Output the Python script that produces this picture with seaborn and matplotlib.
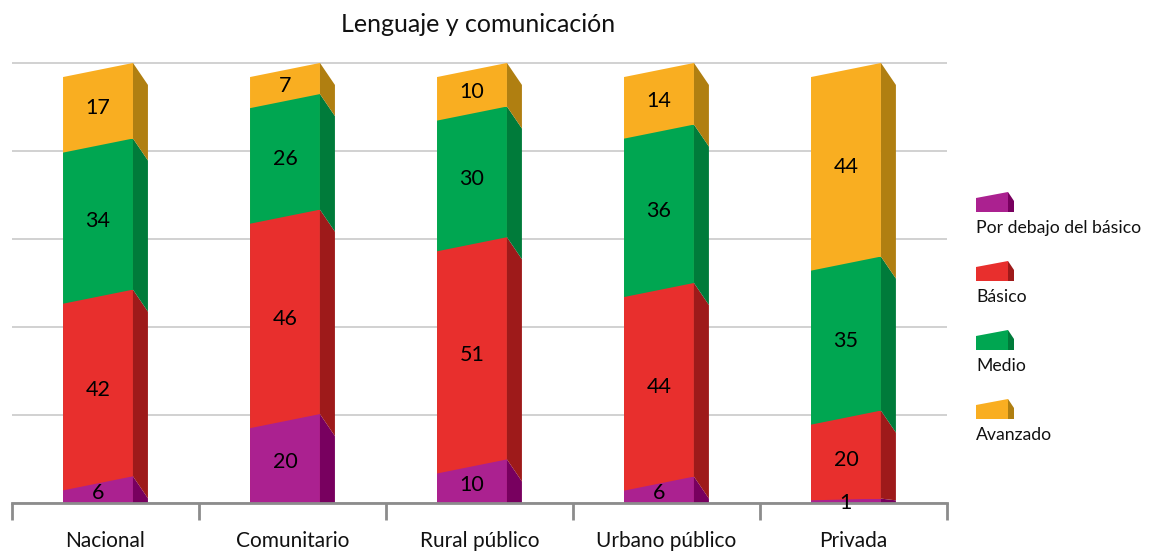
import numpy as np
import pandas as pd
import matplotlib
matplotlib.use("Agg")
import matplotlib.pyplot as plt
import seaborn as sns
from matplotlib.patches import Polygon

# Porcentaje de estudiantes por nivel de logro
categories = ["Nacional", "Comunitario", "Rural público", "Urbano público", "Privada"]
por_debajo = [6, 20, 10, 6, 1]
basico = [42, 46, 51, 44, 20]
medio = [34, 26, 30, 36, 35]
avanzado = [17, 7, 10, 14, 44]
levels = ["Por debajo del básico", "Básico", "Medio", "Avanzado"]
title = "Lenguaje y comunicación"

front_colors = ["#AB2190", "#E82F2D", "#00A651", "#F9AE21"]
side_colors = ["#78005F", "#9E1A1A", "#007B3A", "#B07F11"]

sns.set_theme(style="white")
plt.rcParams["font.family"] = ["Lato", "DejaVu Sans"]

W, H = 1153, 552
fig = plt.figure(figsize=(W / 100, H / 100), dpi=100)
ax = fig.add_axes([0.0104, 0.0888, 0.8109, 0.837])

# 100 % stacked: each column is scaled to its own total
series = np.array([por_debajo, basico, medio, avanzado], dtype=float)
shares = series / series.sum(axis=0) * 100
cum = np.cumsum(shares, axis=0)

FRONT_W = 0.374   # front face width (category units)
SHIFT = -0.04     # front face centre offset from category centre
DX = 0.08         # side face depth (category units)
SLANT = 3.2       # front edge rise from left to right (value units)
DROP = 5.0        # side edge fall from front to back (value units)


def eff(v, amount):
    return min(amount, max(v - 0.6, 0.0))


# front faces: cumulative bars, tallest first, each clipped to a slanted top
for k in range(3, -1, -1):
    before = len(ax.patches)
    df = pd.DataFrame({"cat": categories, "val": cum[k]})
    sns.barplot(data=df, x="cat", y="val", color=front_colors[k], saturation=1,
                width=FRONT_W, linewidth=0, ax=ax, zorder=3)
    for i, bar in enumerate(ax.patches[before:]):
        bar.set_x(bar.get_x() + SHIFT)
        xl, xr = bar.get_x(), bar.get_x() + bar.get_width()
        hi = cum[k][i]
        clip = Polygon([(xl, -10), (xr, -10), (xr, hi), (xl, hi - eff(hi, SLANT))],
                       closed=True, transform=ax.transData)
        bar.set_clip_path(clip)

# side faces and value labels
for i in range(len(categories)):
    xl = i + SHIFT - FRONT_W / 2
    xr = xl + FRONT_W
    for k in range(4):
        lo = cum[k - 1][i] if k > 0 else -10.0
        hi = cum[k][i]
        lo_b = lo - (eff(lo, DROP) if k > 0 else 0)
        side = Polygon([(xr, lo), (xr, hi), (xr + DX, hi - eff(hi, DROP)), (xr + DX, lo_b)],
                       closed=True, facecolor=side_colors[k], edgecolor="none", zorder=3)
        ax.add_patch(side)
        base = cum[k - 1][i] if k > 0 else 0.0
        # centre of the visible part of the front face
        y_lab = (max(hi - SLANT / 2, 0) + max(base - SLANT / 2, 0)) / 2
        ax.text(i + SHIFT, y_lab, f"{int(series[k][i])}",
                ha="center", va="center", fontsize=15.5, color="black", zorder=5)

ax.set_xlim(-0.5, len(categories) - 0.5)
ax.set_ylim(0, 105)
ax.set_xlabel("")
ax.set_ylabel("")

# horizontal gridlines every 20 points
ax.set_yticks(np.arange(0, 101, 20))
ax.tick_params(axis="y", left=False, labelleft=False)
ax.yaxis.grid(True, color="#c9c9c9", linewidth=1.2)
ax.set_axisbelow(True)

# category separators as major ticks, names as minor ticks
ax.set_xticks(np.arange(-0.5, len(categories), 1.0))
ax.set_xticklabels([])
ax.set_xticks(np.arange(len(categories)), minor=True)
ax.set_xticklabels(categories, minor=True, fontsize=15, color="#111111")
ax.tick_params(axis="x", which="major", direction="out", length=12, width=2,
               color="#8c8c8c", bottom=True)
ax.tick_params(axis="x", which="minor", length=0, pad=20)

for s in ["top", "right", "left"]:
    ax.spines[s].set_visible(False)
ax.spines["bottom"].set_color("#8c8c8c")
ax.spines["bottom"].set_linewidth(2)
ax.spines["bottom"].set_zorder(4)

fig.text(478 / W, 1 - 25 / H, title, ha="center", va="center", fontsize=18, color="#111111")

# legend: small 3D swatches with the level name underneath
for k, name in enumerate(levels):
    top = 192 + 69 * k
    x0, x1, x2 = 976, 1008, 1014
    y_top_r, y_top_l, y_bot = top, top + 6, top + 20

    def P(x, y):
        return (x / W, 1 - y / H)

    fig.patches.append(Polygon([P(x0, y_bot), P(x1, y_bot), P(x1, y_top_r), P(x0, y_top_l)],
                               closed=True, facecolor=front_colors[k], edgecolor="none",
                               transform=fig.transFigure))
    fig.patches.append(Polygon([P(x1, y_bot), P(x1, y_top_r), P(x2, y_top_r + 9), P(x2, y_bot)],
                               closed=True, facecolor=side_colors[k], edgecolor="none",
                               transform=fig.transFigure))
    fig.text(x0 / W, 1 - (y_bot + 16) / H, name, ha="left", va="center",
             fontsize=12.7, color="#111111")

fig.savefig("out.png", dpi=100)
